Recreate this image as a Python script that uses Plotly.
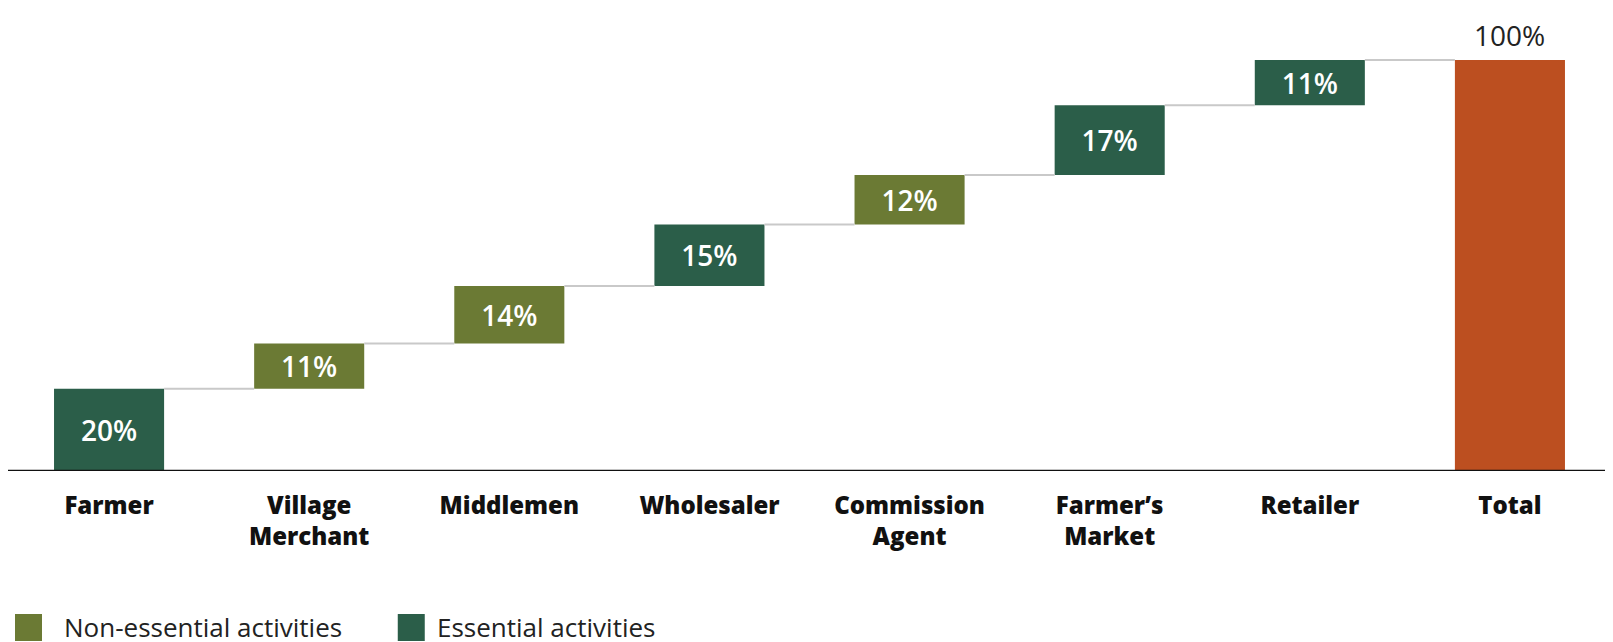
import plotly.graph_objects as go

categories = ["Farmer", "Village<br>Merchant", "Middlemen", "Wholesaler",
              "Commission<br>Agent", "Farmer’s<br>Market", "Retailer", "Total"]
steps = [20, 11, 14, 15, 12, 17, 11]
step_type = ["Essential", "Non-essential", "Non-essential", "Essential",
             "Non-essential", "Essential", "Essential"]
total_value = 100

colors = {"Non-essential": "#6b7a34", "Essential": "#2b5e49"}
legend_names = {"Non-essential": "Non-essential activities",
                "Essential": "Essential activities"}
total_color = "#bc4f20"
bar_w = 0.55
FONT = "Open Sans, Lato, sans-serif"

# cumulative bases
bases = []
run = 0
for v in steps:
    bases.append(run)
    run += v

fig = go.Figure()

# connectors
cx, cy = [], []
for i in range(len(steps)):
    top = bases[i] + steps[i]
    cx += [i + bar_w / 2, i + 1 - bar_w / 2, None]
    cy += [top, top, None]
fig.add_trace(go.Scatter(x=cx, y=cy, mode="lines", line=dict(color="#c9c9c9", width=2),
                         showlegend=False, hoverinfo="skip"))

for kind in ["Non-essential", "Essential"]:
    idx = [i for i, t in enumerate(step_type) if t == kind]
    fig.add_trace(go.Bar(
        x=idx, y=[steps[i] for i in idx], base=[bases[i] for i in idx],
        width=bar_w, marker=dict(color=colors[kind], line=dict(width=0)),
        name=legend_names[kind], showlegend=False,
        text=[f"{steps[i]}%" for i in idx], textposition="inside",
        insidetextanchor="middle", constraintext="none",
        textfont=dict(color="white", size=28, family=FONT, weight=600),
    ))

fig.add_trace(go.Bar(
    x=[len(steps)], y=[total_value], base=[0], width=bar_w,
    marker=dict(color=total_color, line=dict(width=0)), showlegend=False,
))

annotations = [dict(x=len(steps), y=total_value, xref="x", yref="y",
                    text=f"{total_value}%", showarrow=False, yanchor="bottom",
                    yshift=4, font=dict(size=28, color="#222222", family=FONT))]

# manual legend (large square swatches)
shapes = [dict(type="line", xref="paper", yref="y", x0=0, x1=1, y0=0, y1=0,
               line=dict(color="#111111", width=2.5))]
legend_items = [("Non-essential", 0.004375, 0.03375),
                ("Essential", 0.2436, 0.2669)]
for kind, sx, tx in legend_items:
    shapes.append(dict(type="rect", xref="paper", yref="paper",
                       x0=sx, x1=sx + 0.016875, y0=-0.3089, y1=-0.3672,
                       fillcolor=colors[kind], line=dict(width=0)))
    annotations.append(dict(x=tx, y=-0.3369, xref="paper", yref="paper",
                            xanchor="left", yanchor="middle", showarrow=False,
                            text=legend_names[kind],
                            font=dict(size=26, color="#222222", family=FONT)))

fig.update_layout(
    width=1613, height=642,
    paper_bgcolor="white", plot_bgcolor="white",
    barmode="overlay",
    margin=dict(l=0, r=13, t=0, b=179, autoexpand=False),
    showlegend=False,
    xaxis=dict(range=[-0.505, 7.49], tickvals=list(range(len(categories))),
               ticktext=categories,
               tickfont=dict(size=24, color="#111111", family=FONT, weight=800),
               showgrid=False, zeroline=False, showline=False,
               ticks="outside", ticklen=13, tickcolor="rgba(0,0,0,0)"),
    yaxis=dict(range=[0, 112.65], visible=False, showgrid=False, zeroline=False),
    shapes=shapes,
    annotations=annotations,
    font=dict(family=FONT),
)

fig.write_html("out.html")
